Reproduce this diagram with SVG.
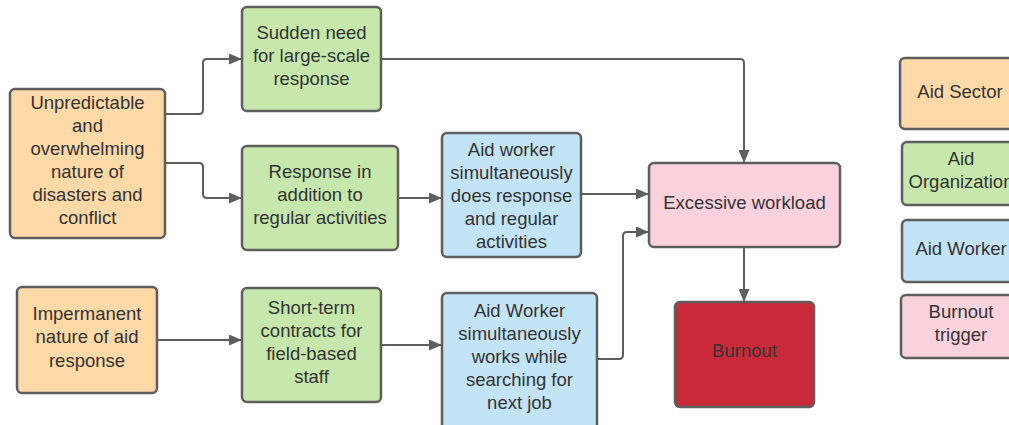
<svg xmlns="http://www.w3.org/2000/svg" width="1009" height="425" viewBox="0 0 1009 425">
<defs>
<marker id="arr" markerUnits="userSpaceOnUse" markerWidth="13" markerHeight="11" refX="13" refY="5.5" orient="auto">
<path d="M0,0 L13,5.5 L0,11 z" fill="#5e5e5e"/>
</marker>
<style>
.box{stroke:#5e5e5e;stroke-width:2.5}
.sec{fill:#fed9a8}
.org{fill:#c7e8ad}
.wrk{fill:#c3e4f6}
.trg{fill:#f9d2de}
.red{fill:#c92a39}
text{font-family:"Liberation Sans",Arial,sans-serif;font-size:18.5px;fill:#333;text-anchor:middle}
.con{fill:none;stroke:#5e5e5e;stroke-width:2;marker-end:url(#arr)}
</style>
</defs>
<rect width="1009" height="425" fill="#fff"/>
<g id="connectors">
<path class="con" d="M165,114 H199 Q203,114 203,110 V63 Q203,59 207,59 H242"/>
<path class="con" d="M165,163 H199 Q203,163 203,167 V194 Q203,198 207,198 H242"/>
<path class="con" d="M381,59 H740 Q744,59 744,63 V163"/>
<path class="con" d="M398,198 H442"/>
<path class="con" d="M581,194 H649"/>
<path class="con" d="M597,359 H619 Q623,359 623,355 V236 Q623,232 627,232 H649"/>
<path class="con" d="M744,247 V302"/>
<path class="con" d="M157,340 H242"/>
<path class="con" d="M381,345 H442"/>
</g>
<g id="n-unpredictable">
<rect class="box sec" x="10" y="89" width="155" height="149" rx="5"/>
<text x="87.5" y="109">Unpredictable</text>
<text x="87.5" y="132">and</text>
<text x="87.5" y="155">overwhelming</text>
<text x="87.5" y="178">nature of</text>
<text x="87.5" y="201">disasters and</text>
<text x="87.5" y="224">conflict</text>
</g>
<g id="n-sudden">
<rect class="box org" x="242" y="7" width="139" height="104" rx="5"/>
<text x="311.5" y="39">Sudden need</text>
<text x="311.5" y="62">for large-scale</text>
<text x="311.5" y="85">response</text>
</g>
<g id="n-response">
<rect class="box org" x="242" y="146" width="156" height="104" rx="5"/>
<text x="320" y="178">Response in</text>
<text x="320" y="201">addition to</text>
<text x="320" y="224">regular activities</text>
</g>
<g id="n-aidworker1">
<rect class="box wrk" x="442" y="133" width="139" height="124" rx="5"/>
<text x="511.5" y="156">Aid worker</text>
<text x="511.5" y="179">simultaneously</text>
<text x="511.5" y="202">does response</text>
<text x="511.5" y="225">and regular</text>
<text x="511.5" y="248">activities</text>
</g>
<g id="n-excessive">
<rect class="box trg" x="649" y="163" width="191" height="84" rx="5"/>
<text x="744.5" y="209">Excessive workload</text>
</g>
<g id="n-burnout">
<rect class="box red" x="675" y="302" width="139" height="105" rx="5"/>
<text x="744.5" y="357">Burnout</text>
</g>
<g id="n-impermanent">
<rect class="box sec" x="17" y="287" width="140" height="106" rx="5"/>
<text x="87" y="320">Impermanent</text>
<text x="87" y="343">nature of aid</text>
<text x="87" y="367">response</text>
</g>
<g id="n-shortterm">
<rect class="box org" x="242" y="288" width="139" height="114" rx="5"/>
<text x="311.5" y="314">Short-term</text>
<text x="311.5" y="337">contracts for</text>
<text x="311.5" y="360">field-based</text>
<text x="311.5" y="383">staff</text>
</g>
<g id="n-aidworker2">
<rect class="box wrk" x="442" y="293" width="155" height="140" rx="5"/>
<text x="519.5" y="317">Aid Worker</text>
<text x="519.5" y="340">simultaneously</text>
<text x="519.5" y="363">works while</text>
<text x="519.5" y="386">searching for</text>
<text x="519.5" y="409">next job</text>
</g>
<g id="legend-sector">
<rect class="box sec" x="900" y="58" width="120" height="71" rx="5"/>
<text x="960" y="98">Aid Sector</text>
</g>
<g id="legend-org">
<rect class="box org" x="902" y="142" width="118" height="63" rx="5"/>
<text x="961" y="165">Aid</text>
<text x="961" y="188">Organization</text>
</g>
<g id="legend-worker">
<rect class="box wrk" x="902" y="220" width="118" height="62" rx="5"/>
<text x="961" y="255">Aid Worker</text>
</g>
<g id="legend-trigger">
<rect class="box trg" x="901" y="295" width="119" height="63" rx="5"/>
<text x="961" y="318">Burnout</text>
<text x="961" y="341">trigger</text>
</g>
</svg>
